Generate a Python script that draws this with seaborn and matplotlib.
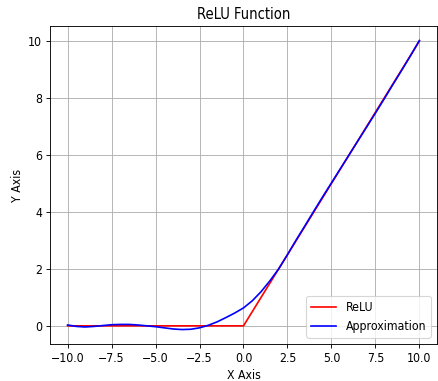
import numpy as np
import pandas as pd
import matplotlib
matplotlib.use("Agg")
import matplotlib.pyplot as plt
import seaborn as sns

# ReLU corner points
relu_x = [-10.0, 0.0, 10.0]
relu_y = [0.0, 0.0, 10.0]

# approximation curve
approx_x = [-10.0, -9.5, -9.0, -8.5, -8.0, -7.5, -7.0, -6.5, -6.0, -5.5,
            -5.0, -4.5, -4.0, -3.5, -3.0, -2.5, -2.0, -1.5, -1.0, -0.5,
            0.0, 0.5, 1.0, 1.5, 2.0, 2.5, 3.0, 3.5, 4.0, 4.5,
            5.0, 5.5, 6.0, 6.5, 7.0, 7.5, 8.0, 8.5, 9.0, 9.5, 10.0]
approx_y = [0.03, -0.02, -0.04, -0.02, 0.01, 0.04, 0.05, 0.05, 0.03, 0.0,
            -0.03, -0.07, -0.11, -0.13, -0.12, -0.07, 0.02, 0.14, 0.29, 0.45,
            0.63, 0.88, 1.2, 1.58, 2.0, 2.5, 3.02, 3.52, 4.03, 4.53,
            5.02, 5.51, 6.0, 6.49, 6.98, 7.47, 7.97, 8.48, 8.98, 9.49, 10.02]

relu_df = pd.DataFrame({"x": relu_x, "y": relu_y})
approx_df = pd.DataFrame({"x": approx_x, "y": approx_y})

# the reference text is a bit tall and narrow, so use the condensed face a size up
plt.rcParams["font.family"] = ["DejaVu Sans"]
plt.rcParams["font.stretch"] = "condensed"
plt.rcParams["font.size"] = 11

fig, ax = plt.subplots(figsize=(438 / 80, 381 / 80), dpi=80)
fig.subplots_adjust(left=50 / 438, right=437 / 438, top=1 - 26 / 381, bottom=1 - 344 / 381)

sns.lineplot(data=relu_df, x="x", y="y", color="red", label="ReLU", ax=ax)
sns.lineplot(data=approx_df, x="x", y="y", color="blue", label="Approximation", ax=ax)

ax.set_title("ReLU Function")
ax.set_xlabel("X Axis")
ax.set_ylabel("Y Axis")
ax.grid(True)
ax.legend(loc="lower right")

plt.savefig("out.png", dpi=80)
